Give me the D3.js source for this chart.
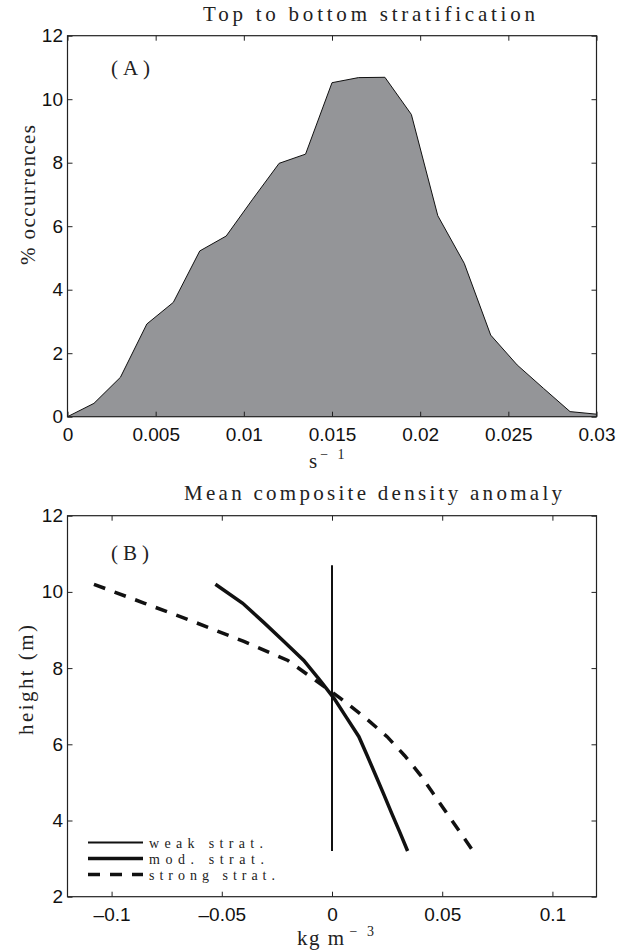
<!DOCTYPE html>
<html lang="en">

<head>
    <meta charset="UTF-8">
    <title>Stratification</title>
    <script src="https://cdnjs.cloudflare.com/ajax/libs/d3/7.8.5/d3.min.js"></script>
    <style>
        body { margin: 0; background: #fff; }
        svg { display: block; }
        .tick text { font-family: "Liberation Sans", Arial, sans-serif; font-size: 19px; fill: #111; }
        .serif { font-family: "Liberation Serif", "DejaVu Serif", serif; fill: #222; }
    </style>
</head>

<body>
    <div id="chart"></div>
    <script>
        // (A) histogram of top-to-bottom stratification
        const stratX = [0, 0.0015, 0.003, 0.0045, 0.006, 0.0075, 0.009, 0.0105, 0.012, 0.0135, 0.015,
            0.0165, 0.018, 0.0195, 0.021, 0.0225, 0.024, 0.0255, 0.027, 0.0285, 0.03];
        const stratPct = [0, 0.42, 1.24, 2.92, 3.6, 5.22, 5.69, 6.85, 7.98, 8.27, 10.52,
            10.68, 10.69, 9.52, 6.33, 4.83, 2.57, 1.63, 0.89, 0.16, 0.08];

        // (B) density anomaly profiles
        const heights = [10.2, 9.7, 9.2, 8.7, 8.2, 7.7, 7.2, 6.7, 6.2, 5.7, 5.2, 4.7, 4.2, 3.7, 3.2];
        const modAnom = [-0.0529, -0.0405, -0.031, -0.0218, -0.0128, -0.0057, 0.001, 0.0066, 0.0122, 0.016,
            0.0197, 0.0234, 0.027, 0.0307, 0.0343];
        const strongAnom = [-0.108, -0.085, -0.062, -0.040, -0.020, -0.008, 0.004, 0.015, 0.025, 0.033,
            0.040, 0.046, 0.052, 0.058, 0.064];
        const weakHeights = [10.7, 10.2, 9.7, 9.2, 8.7, 8.2, 7.7, 7.2, 6.7, 6.2, 5.7, 5.2, 4.7, 4.2, 3.7, 3.2];
        const weakAnom = [0, 0, 0, 0, 0, 0, 0, 0, 0, 0, 0, 0, 0, 0, 0, 0];

        // ticks
        const xTicksA = [0, 0.005, 0.01, 0.015, 0.02, 0.025, 0.03];
        const xLabelsA = ['0', '0.005', '0.01', '0.015', '0.02', '0.025', '0.03'];
        const yTicksA = [0, 2, 4, 6, 8, 10, 12];
        const yLabelsA = ['0', '2', '4', '6', '8', '10', '12'];
        const xTicksB = [-0.1, -0.05, 0, 0.05, 0.1];
        const xLabelsB = ['\u20130.1', '\u20130.05', '0', '0.05', '0.1'];
        const yTicksB = [2, 4, 6, 8, 10, 12];
        const yLabelsB = ['2', '4', '6', '8', '10', '12'];

        const legendNames = ['weak strat.', 'mod. strat.', 'strong strat.'];

        const width = 629;
        const height = 951;
        const left = 67.5, right = 596.5;

        const svg = d3.select('#chart')
            .append('svg')
            .attr('width', width)
            .attr('height', height);

        const xA = d3.scaleLinear().domain([0, 0.03]).range([left, right]);
        const yA = d3.scaleLinear().domain([0, 12]).range([416.7, 35.7]);
        const xB = d3.scaleLinear().domain([-0.12, 0.12]).range([left, right]);
        const yB = d3.scaleLinear().domain([2, 12]).range([896.7, 515.7]);

        // box with inward ticks on all four sides
        function frame(x, y, xt, xl, yt, yl) {
            const g = svg.append('g').attr('color', '#222');
            const [y0, y1] = y.range();
            const [x0, x1] = x.range();
            g.append('g')
                .attr('transform', `translate(0,${y0})`)
                .call(d3.axisBottom(x).tickValues(xt).tickFormat(d => xl[xt.indexOf(d)])
                    .tickSizeInner(-5).tickSizeOuter(0).tickPadding(11))
                .call(a => a.select('.domain').remove());
            g.append('g')
                .attr('transform', `translate(0,${y1})`)
                .call(d3.axisTop(x).tickValues(xt).tickFormat('').tickSizeInner(-5).tickSizeOuter(0))
                .call(a => a.select('.domain').remove());
            g.append('g')
                .attr('transform', `translate(${x0},0)`)
                .call(d3.axisLeft(y).tickValues(yt).tickFormat(d => yl[yt.indexOf(d)])
                    .tickSizeInner(-5).tickSizeOuter(0).tickPadding(4.5))
                .call(a => a.select('.domain').remove());
            g.append('g')
                .attr('transform', `translate(${x1},0)`)
                .call(d3.axisRight(y).tickValues(yt).tickFormat('').tickSizeInner(-5).tickSizeOuter(0))
                .call(a => a.select('.domain').remove());
            g.append('rect')
                .attr('x', x0).attr('y', y1)
                .attr('width', x1 - x0).attr('height', y0 - y1)
                .attr('fill', 'none')
                .attr('stroke', '#222')
                .attr('stroke-width', 1.2);
        }

        //Panel A
        const histData = stratX.map((x, i) => ({ x: x, y: stratPct[i] }));
        svg.append('path')
            .datum(histData)
            .attr('fill', '#949598')
            .attr('d', d3.area().x(d => xA(d.x)).y0(yA(0)).y1(d => yA(d.y)));
        svg.append('path')
            .datum(histData)
            .attr('fill', 'none')
            .attr('stroke', '#111')
            .attr('stroke-width', 1)
            .attr('d', d3.line().x(d => xA(d.x)).y(d => yA(d.y)));
        frame(xA, yA, xTicksA, xLabelsA, yTicksA, yLabelsA);

        svg.append('text').attr('class', 'serif')
            .attr('x', 369).attr('y', 21)
            .attr('text-anchor', 'middle')
            .attr('font-size', 21)
            .attr('textLength', 332).attr('lengthAdjust', 'spacing')
            .text('Top to bottom stratification');
        svg.append('text').attr('class', 'serif')
            .attr('x', 111).attr('y', 75)
            .attr('font-size', 21)
            .attr('textLength', 39).attr('lengthAdjust', 'spacing')
            .text('(A)');
        svg.append('text').attr('class', 'serif')
            .attr('transform', 'translate(35,195) rotate(-90)')
            .attr('text-anchor', 'middle')
            .attr('font-size', 21)
            .attr('textLength', 140).attr('lengthAdjust', 'spacing')
            .text('% occurrences');
        const sLabel = svg.append('text').attr('class', 'serif')
            .attr('x', 309).attr('y', 468)
            .attr('font-size', 21)
            .text('s');
        sLabel.append('tspan').attr('dx', 3).attr('dy', -9).attr('font-size', 14)
            .attr('letter-spacing', 3).text('\u2212 1');

        //Panel B
        const lineB = d3.line().x(d => xB(d.x)).y(d => yB(d.h));
        const series = [
            { x: weakAnom, h: weakHeights, w: 2, dash: null },
            { x: modAnom, h: heights, w: 3.5, dash: null },
            { x: strongAnom, h: heights, w: 3.5, dash: '12,10' },
        ];
        series.forEach(s => {
            svg.append('path')
                .datum(s.x.map((v, i) => ({ x: v, h: s.h[i] })))
                .attr('fill', 'none')
                .attr('stroke', '#111')
                .attr('stroke-width', s.w)
                .attr('stroke-dasharray', s.dash)
                .attr('d', lineB);
        });
        frame(xB, yB, xTicksB, xLabelsB, yTicksB, yLabelsB);

        svg.append('text').attr('class', 'serif')
            .attr('x', 373).attr('y', 500)
            .attr('text-anchor', 'middle')
            .attr('font-size', 21)
            .attr('textLength', 378).attr('lengthAdjust', 'spacing')
            .text('Mean composite density anomaly');
        svg.append('text').attr('class', 'serif')
            .attr('x', 111).attr('y', 560)
            .attr('font-size', 21)
            .attr('textLength', 38).attr('lengthAdjust', 'spacing')
            .text('(B)');
        svg.append('text').attr('class', 'serif')
            .attr('transform', 'translate(33,680) rotate(-90)')
            .attr('text-anchor', 'middle')
            .attr('font-size', 21)
            .attr('textLength', 110).attr('lengthAdjust', 'spacing')
            .text('height (m)');
        const kgLabel = svg.append('text').attr('class', 'serif')
            .attr('x', 297).attr('y', 945)
            .attr('font-size', 21)
            .attr('letter-spacing', 1.5)
            .text('kg m');
        kgLabel.append('tspan').attr('dx', 4).attr('dy', -9).attr('font-size', 14)
            .attr('letter-spacing', 3).text('\u2212 3');

        //Legend
        const legendW = [114, 115, 126];
        const legend = svg.append('g').attr('id', 'legend');
        series.forEach((s, i) => {
            const ly = 842.5 + i * 16;
            legend.append('line')
                .attr('x1', 88).attr('x2', 143)
                .attr('y1', ly).attr('y2', ly)
                .attr('stroke', '#111')
                .attr('stroke-width', s.w)
                .attr('stroke-dasharray', s.dash);
            legend.append('text').attr('class', 'serif')
                .attr('x', 149).attr('y', ly + 5.5)
                .attr('font-size', 14)
                .attr('textLength', legendW[i]).attr('lengthAdjust', 'spacing')
                .text(legendNames[i]);
        });
    </script>
</body>

</html>
